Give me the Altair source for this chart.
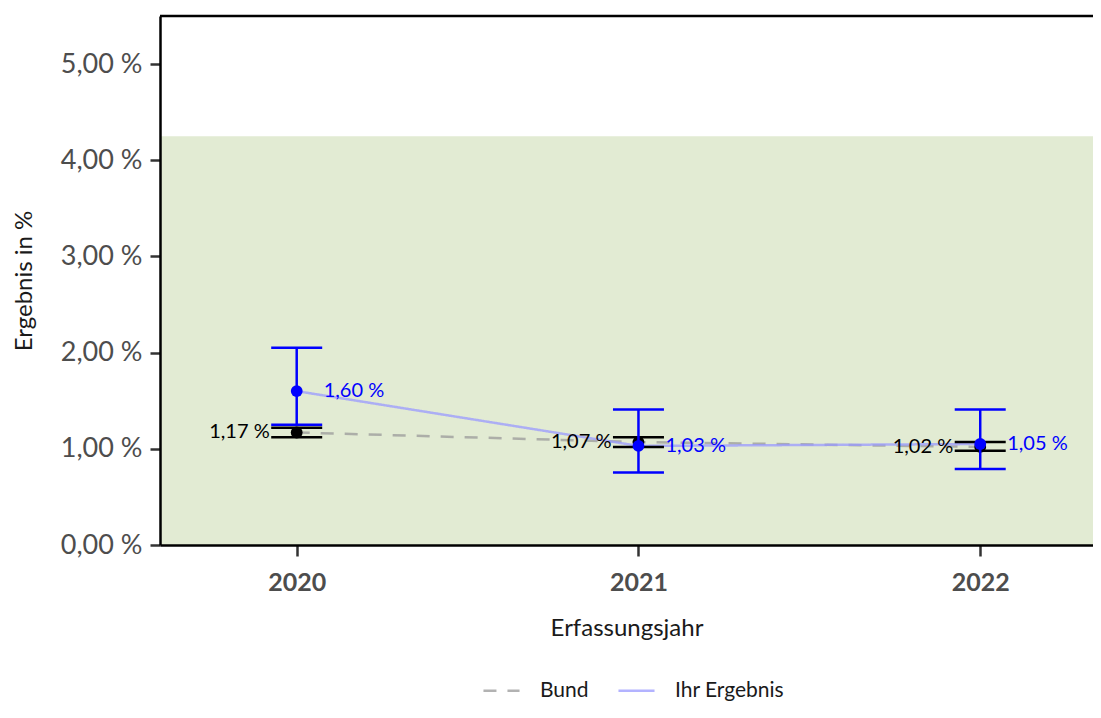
import altair as alt
import pandas as pd

# ---- data ----
years = [2020, 2021, 2022]
ihr_value = [1.60, 1.03, 1.05]
ihr_lower = [1.25, 0.755, 0.79]
ihr_upper = [2.05, 1.41, 1.41]
bund_value = [1.17, 1.07, 1.02]
bund_lower = [1.12, 1.02, 0.98]
bund_upper = [1.22, 1.12, 1.07]
band_lower = [0.0]
band_upper = [4.25]
y_top = [5.5]
y_ticks = [0, 1, 2, 3, 4, 5]
series_names = ["Bund", "Ihr Ergebnis"]

FONT = "Lato"
W, H = 933, 529

ihr = pd.DataFrame({"year": years, "value": ihr_value, "lo": ihr_lower, "hi": ihr_upper,
                    "series": "Ihr Ergebnis"})
bund = pd.DataFrame({"year": years, "value": bund_value, "lo": bund_lower, "hi": bund_upper,
                     "series": "Bund"})
lines = pd.concat([bund, ihr], ignore_index=True)
band = pd.DataFrame({"lo": band_lower, "hi": band_upper})
top = pd.DataFrame({"y": y_top})

xscale = alt.Scale(domain=[2019.6, 2022.33], nice=False, zero=False)
yscale = alt.Scale(domain=[0, y_top[0]], nice=False)

x_axis = alt.Axis(values=years, format="d", title="Erfassungsjahr", grid=False,
                  domain=True, domainColor="black", domainWidth=2.5, zindex=1,
                  tickColor="#333333", tickWidth=2.5, tickSize=11,
                  labelFontSize=25, labelFontWeight="bold", labelColor="#4d4d4d",
                  labelPadding=14, titleFontSize=24, titleFontWeight="normal",
                  titleColor="#1a1a1a", titlePadding=21)
y_axis = alt.Axis(values=y_ticks,
                  labelExpr="replace(format(datum.value, '.2f'), '.', ',') + ' %'",
                  title="Ergebnis in %", grid=False, domain=True, zindex=1,
                  domainColor="black", domainWidth=2.5,
                  tickColor="#333333", tickWidth=2.5, tickSize=10,
                  labelFontSize=27, labelColor="#4d4d4d", labelPadding=8,
                  titleFontSize=24, titleFontWeight="normal", titleColor="#1a1a1a",
                  titlePadding=24)

X = alt.X("year:Q", scale=xscale, axis=x_axis)

band_layer = alt.Chart(band).mark_rect(color="#e2ebd3").encode(
    y=alt.Y("lo:Q", scale=yscale, axis=y_axis), y2="hi:Q")

top_frame = alt.Chart(top).mark_rule(color="black", strokeWidth=2.5).encode(
    y=alt.Y("y:Q", scale=yscale))

line_layer = alt.Chart(lines).mark_line(strokeWidth=2.5, opacity=0.75).encode(
    x=X, y=alt.Y("value:Q", scale=yscale),
    color=alt.Color("series:N", scale=alt.Scale(domain=series_names,
                                                range=["#999999", "#9a9aff"]),
                    legend=alt.Legend(title=None, orient="none", direction="horizontal",
                                      legendX=322, legendY=655, symbolType="stroke",
                                      symbolSize=1300, symbolStrokeWidth=2.5,
                                      labelFontSize=21, labelFont=FONT,
                                      labelColor="#1a1a1a", columnPadding=24,
                                      labelOffset=19)),
    strokeDash=alt.StrokeDash("series:N", scale=alt.Scale(domain=series_names,
                                                          range=[[13, 11], [1, 0]]),
                              legend=alt.Legend(title=None)),
)


def errbar(df, color, label_dx, label_align):
    base = alt.Chart(df).encode(x=X)
    rule = base.mark_rule(color=color, strokeWidth=2.5, opacity=1).encode(
        y=alt.Y("lo:Q", scale=yscale), y2="hi:Q")
    cap_lo = base.mark_tick(orient="horizontal", size=51, thickness=2.5, color=color,
                            opacity=1).encode(y=alt.Y("lo:Q", scale=yscale))
    cap_hi = base.mark_tick(orient="horizontal", size=51, thickness=2.5, color=color,
                            opacity=1).encode(y=alt.Y("hi:Q", scale=yscale))
    dot = base.mark_circle(color=color, size=140, opacity=1).encode(
        y=alt.Y("value:Q", scale=yscale))
    text = base.mark_text(color=color, dx=label_dx, align=label_align, baseline="middle",
                          fontSize=20, font=FONT).transform_calculate(
        lab="replace(format(datum.value, '.2f'), '.', ',') + ' %'").encode(
        y=alt.Y("value:Q", scale=yscale), text="lab:N")
    return [rule, cap_lo, cap_hi, dot, text]


layers = [band_layer, line_layer] + errbar(bund, "black", -27, "right") + \
    errbar(ihr, "#0000ff", 27, "left") + [top_frame]

chart = alt.layer(*layers).properties(
    width=W, height=H,
    autosize=alt.AutoSizeParams(type="none"),
    padding={"left": 152, "top": 8, "right": 0, "bottom": 160},
).configure(font=FONT).configure_view(stroke="red", strokeWidth=0).configure_axis(
    labelFont=FONT, titleFont=FONT)

chart.save("out.html", embed_options={"renderer": "svg", "actions": False})
